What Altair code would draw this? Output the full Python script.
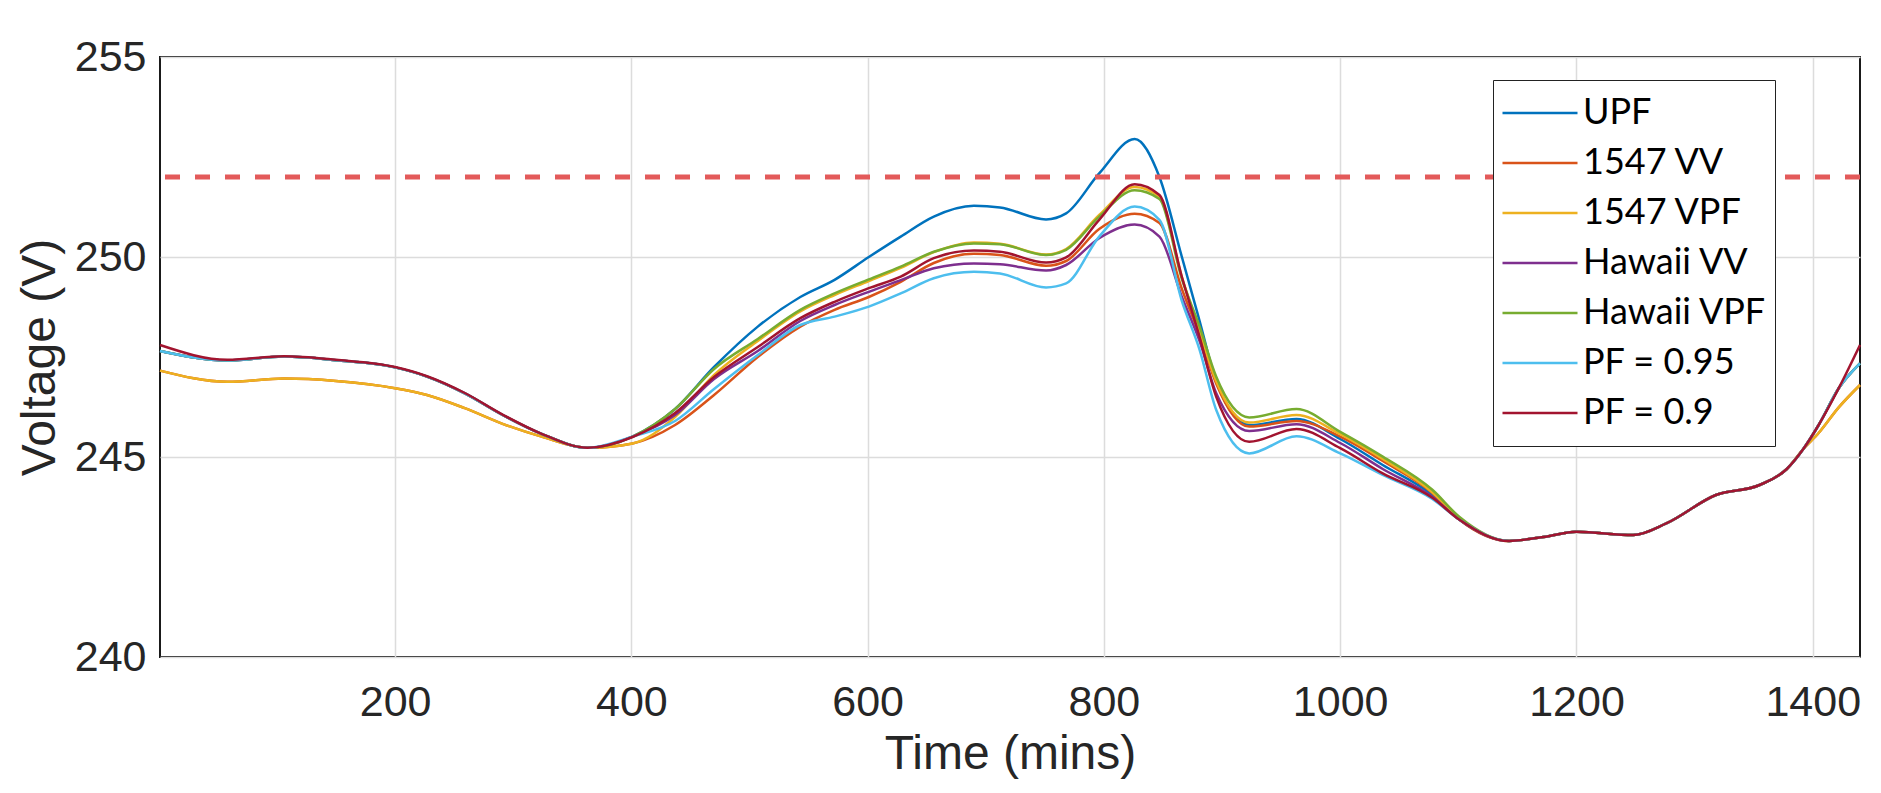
import altair as alt
import pandas as pd

# Time axis (minutes)
T = [1, 58, 106, 150, 200, 227, 259, 291, 324, 363, 401, 437, 470, 507, 543, 572, 601, 628, 656, 690,
     712, 751, 768, 796, 826, 847, 866, 881, 895, 923, 963, 1000, 1036, 1078, 1101, 1143, 1172, 1200,
     1248, 1276, 1318, 1355, 1378, 1392, 1405, 1422, 1440]

SERIES = ["UPF", "1547 VV", "1547 VPF", "Hawaii VV", "Hawaii VPF", "PF = 0.95", "PF = 0.9"]
COLORS = ["#0072BD", "#D95319", "#EDB120", "#7E2F8E", "#77AC30", "#4DBEEE", "#A2142F"]

upf = [247.65, 247.41, 247.51, 247.42, 247.24, 247.01, 246.59, 246.05, 245.58, 245.23, 245.51,
       246.2, 247.25, 248.26, 249.0, 249.43, 250.0, 250.51, 251.01, 251.28, 251.24, 250.94, 251.09,
       252.09, 252.95, 252.0, 250.0, 248.4, 246.9, 245.8, 245.95, 245.45, 244.8, 244.05, 243.43,
       242.9, 243.0, 243.13, 243.05, 243.34, 244.05, 244.3, 244.7, 245.2, 245.8, 246.72, 247.34]

vv1547 = [247.16, 246.88, 246.96, 246.9, 246.72, 246.55, 246.22, 245.83, 245.51, 245.23, 245.34,
          245.8, 246.55, 247.5, 248.26, 248.68, 249.0, 249.38, 249.85, 250.08, 250.05, 249.78, 249.9,
          250.7, 251.08, 250.85, 249.2, 248.05, 246.84, 245.76, 245.9, 245.51, 244.9, 244.1, 243.43,
          242.9, 243.0, 243.13, 243.05, 243.34, 244.05, 244.3, 244.7, 245.2, 245.6, 246.24, 246.8]

vpf1547 = [247.16, 246.88, 246.96, 246.9, 246.72, 246.55, 246.22, 245.83, 245.51, 245.23, 245.34,
           246.0, 247.05, 247.9, 248.64, 249.05, 249.4, 249.73, 250.12, 250.36, 250.33, 250.06, 250.2,
           251.05, 251.75, 251.5, 249.5, 248.15, 246.9, 245.86, 246.05, 245.57, 244.95, 244.12, 243.47,
           242.9, 243.0, 243.13, 243.05, 243.34, 244.05, 244.3, 244.7, 245.2, 245.6, 246.24, 246.8]

hvv = [247.65, 247.41, 247.51, 247.42, 247.24, 247.01, 246.59, 246.05, 245.58, 245.23, 245.51,
       246.05, 246.95, 247.65, 248.4, 248.8, 249.13, 249.42, 249.72, 249.84, 249.82, 249.66, 249.8,
       250.47, 250.81, 250.51, 249.0, 247.9, 246.6, 245.65, 245.82, 245.35, 244.7, 244.0, 243.43,
       242.9, 243.0, 243.13, 243.05, 243.34, 244.05, 244.3, 244.7, 245.2, 245.8, 246.72, 247.34]

hvpf = [247.65, 247.41, 247.51, 247.42, 247.24, 247.01, 246.59, 246.05, 245.58, 245.23, 245.51,
        246.2, 247.2, 247.95, 248.68, 249.09, 249.44, 249.76, 250.13, 250.34, 250.32, 250.05, 250.18,
        251.01, 251.67, 251.45, 249.45, 248.26, 247.01, 245.99, 246.2, 245.63, 245.01, 244.18, 243.5,
        242.9, 243.0, 243.13, 243.05, 243.34, 244.05, 244.3, 244.7, 245.2, 245.8, 246.72, 247.34]

pf095 = [247.65, 247.41, 247.51, 247.42, 247.24, 247.01, 246.59, 246.05, 245.58, 245.23, 245.51,
         245.9, 246.7, 247.55, 248.3, 248.51, 248.76, 249.09, 249.47, 249.63, 249.59, 249.24, 249.34,
         250.51, 251.26, 250.93, 248.9, 247.68, 246.18, 245.09, 245.52, 245.09, 244.55, 243.95, 243.43,
         242.9, 243.0, 243.13, 243.05, 243.34, 244.05, 244.3, 244.7, 245.2, 245.8, 246.72, 247.34]

pf09 = [247.8, 247.43, 247.52, 247.43, 247.25, 247.02, 246.6, 246.06, 245.58, 245.23, 245.5,
        246.1, 247.0, 247.75, 248.47, 248.88, 249.22, 249.51, 249.97, 250.16, 250.13, 249.86, 249.99,
        250.93, 251.82, 251.55, 249.5, 248.0, 246.51, 245.38, 245.7, 245.22, 244.59, 243.98, 243.43,
        242.9, 243.0, 243.13, 243.05, 243.34, 244.05, 244.3, 244.7, 245.2, 245.8, 246.72, 247.8]

LIMIT = 252  # voltage limit (dashed red line)
X_TICKS = [200, 400, 600, 800, 1000, 1200, 1400]
Y_TICKS = [240, 245, 250, 255]

values = [upf, vv1547, vpf1547, hvv, hvpf, pf095, pf09]
rows = []
for name, vals in zip(SERIES, values):
    for t, v in zip(T, vals):
        rows.append({"time": t, "voltage": v, "series": name})
df = pd.DataFrame(rows)

AXIS_FONT = "Liberation Sans"

x_enc = alt.X("time:Q",
              scale=alt.Scale(domain=[1, 1440], nice=False),
              axis=alt.Axis(values=X_TICKS, format="d", title="Time (mins)", labelFontSize=43,
                            titleFontSize=48, titlePadding=6, labelPadding=24))
y_enc = alt.Y("voltage:Q",
              scale=alt.Scale(domain=[240, 255], nice=False),
              axis=alt.Axis(values=Y_TICKS, format="d", title="Voltage (V)", labelFontSize=43,
                            titleFontSize=48, titlePadding=10, labelPadding=14))

lines = alt.Chart(df).mark_line(strokeWidth=2.5, interpolate="monotone").encode(
    x=x_enc,
    y=y_enc,
    color=alt.Color("series:N",
                    scale=alt.Scale(domain=SERIES, range=COLORS),
                    sort=SERIES,
                    legend=alt.Legend(title=None, orient="none", legendX=1333, legendY=23,
                                      symbolType="stroke", symbolSize=5625, symbolStrokeWidth=2.5,
                                      clipHeight=50, rowPadding=0, padding=8,
                                      labelFont="Lato", labelFontSize=36, labelColor="#000000",
                                      labelOffset=4, labelLimit=400,
                                      strokeColor="#222222", fillColor="white")),
    detail="series:N",
)

limit = alt.Chart().mark_rule(color="#E35A5A", strokeWidth=5, strokeDash=[15, 15]).encode(
    y=alt.datum(LIMIT)
)

chart = alt.layer(lines, limit).properties(
    width=1700,
    height=600,
    autosize=alt.AutoSizeParams(type="none"),
    padding={"left": 152, "top": 49, "right": 13, "bottom": 128},
    background="white",
).configure_view(
    stroke="#1a1a1a", strokeWidth=2
).configure_axis(
    labelFont=AXIS_FONT, titleFont=AXIS_FONT, labelColor="#262626", titleColor="#262626",
    titleFontWeight="normal", grid=True, gridColor="#dcdcdc", gridWidth=1.5,
    ticks=False, tickSize=0, domain=False
)

chart.save("out.html", embed_options={"renderer": "svg", "actions": False})
